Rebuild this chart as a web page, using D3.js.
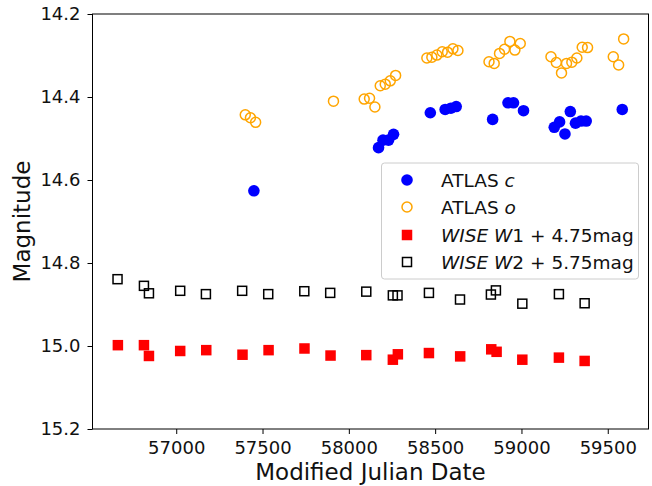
<!DOCTYPE html>
<html><head><meta charset="utf-8">
<script src="https://cdn.jsdelivr.net/npm/d3@7"></script>
<style>
body{margin:0;background:#fff;}
svg text{font-family:"DejaVu Sans",sans-serif;}
</style></head>
<body><svg id="c" width="652" height="486"></svg>
<script>
// ATLAS c (filled blue circles)
const atlasC_mjd = [57450,58172,58198,58230,58259,58472,58558,58591,58622,58833,58922,58954,59012,59190,59221,59252,59283,59313,59345,59375,59584];
const atlasC_mag = [14.626,14.522,14.504,14.504,14.490,14.438,14.430,14.427,14.423,14.454,14.414,14.414,14.433,14.473,14.460,14.489,14.435,14.463,14.458,14.458,14.430];
// ATLAS o (open orange circles)
const atlasO_mjd = [57400,57430,57460,57911,58089,58120,58151,58182,58211,58240,58271,58452,58481,58510,58541,58572,58603,58632,58812,58842,58873,58902,58933,58962,58993,59171,59202,59232,59261,59292,59321,59352,59383,59532,59563,59592];
const atlasO_mag = [14.443,14.450,14.461,14.410,14.405,14.403,14.424,14.373,14.369,14.361,14.348,14.306,14.304,14.299,14.291,14.292,14.284,14.288,14.315,14.319,14.295,14.285,14.266,14.287,14.271,14.303,14.317,14.342,14.319,14.316,14.306,14.280,14.281,14.303,14.323,14.260];
// WISE W1 + 4.75 mag (filled red squares)
const w1_mjd = [56662,56813,56842,57023,57174,57384,57535,57743,57894,58101,58255,58284,58464,58645,58825,58856,59005,59217,59366];
const w1_mag = [14.998,14.998,15.024,15.012,15.010,15.021,15.010,15.006,15.023,15.022,15.033,15.020,15.017,15.025,15.008,15.014,15.033,15.028,15.036];
// WISE W2 + 5.75 mag (open black squares)
const w2_mjd = [56660,56813,56842,57023,57172,57382,57533,57742,57892,58101,58255,58282,58464,58644,58823,58852,59005,59217,59366];
const w2_mag = [14.839,14.855,14.873,14.867,14.875,14.867,14.875,14.868,14.872,14.869,14.878,14.878,14.872,14.888,14.876,14.866,14.898,14.875,14.897];

const xTicks = [57000,57500,58000,58500,59000,59500];
const yTicks = [14.2,14.4,14.6,14.8,15.0,15.2];
const xDomain = [56515,59736];
const yDomain = [14.2,15.2];

const svg = d3.select("#c");
const L=92.5, R=648.5, T=14, B=429;
const x = d3.scaleLinear().domain(xDomain).range([L,R]);
const y = d3.scaleLinear().domain(yDomain).range([T,B]);

const zip = (a,b)=>a.map((v,i)=>[v,b[i]]);

// axes
const gx = svg.append("g").attr("transform",`translate(0,${B})`)
  .call(d3.axisBottom(x).tickValues(xTicks).tickFormat(d3.format("d")).tickSize(5).tickPadding(7));
const gy = svg.append("g").attr("transform",`translate(${L},0)`)
  .call(d3.axisLeft(y).tickValues(yTicks).tickFormat(d3.format(".1f")).tickSize(5).tickPadding(7));
[gx,gy].forEach(g=>{
  g.select(".domain").remove();
  g.selectAll("line").attr("stroke","#000").attr("stroke-width",1);
  g.selectAll("text").attr("font-size","18px").attr("fill","#111").attr("font-family","DejaVu Sans");
});

// data
const pts = svg.append("g");
pts.selectAll(".o").data(zip(atlasO_mjd,atlasO_mag)).join("circle")
  .attr("cx",d=>x(d[0])).attr("cy",d=>y(d[1])).attr("r",5)
  .attr("fill","none").attr("stroke","#ffa500").attr("stroke-width",1.5);
pts.selectAll(".c").data(zip(atlasC_mjd,atlasC_mag)).join("circle")
  .attr("cx",d=>x(d[0])).attr("cy",d=>y(d[1])).attr("r",5.8)
  .attr("fill","#0000ff");
const s1=10.5;
pts.selectAll(".w1").data(zip(w1_mjd,w1_mag)).join("rect")
  .attr("x",d=>x(d[0])-s1/2).attr("y",d=>y(d[1])-s1/2).attr("width",s1).attr("height",s1)
  .attr("fill","#ff0000");
const s2=9;
pts.selectAll(".w2").data(zip(w2_mjd,w2_mag)).join("rect")
  .attr("x",d=>x(d[0])-s2/2).attr("y",d=>y(d[1])-s2/2).attr("width",s2).attr("height",s2)
  .attr("fill","none").attr("stroke","#000").attr("stroke-width",1.5);

// frame
svg.append("rect").attr("x",L).attr("y",T).attr("width",R-L).attr("height",B-T)
  .attr("fill","none").attr("stroke","#000").attr("stroke-width",1);

// axis labels
svg.append("text").attr("x",(L+R)/2).attr("y",480).attr("text-anchor","middle")
  .attr("font-size","23px").attr("fill","#111").text("Modified Julian Date");
svg.append("text").attr("transform",`translate(30,${(T+B)/2}) rotate(-90)`).attr("text-anchor","middle")
  .attr("font-size","23px").attr("fill","#111").text("Magnitude");

// legend
const lg = svg.append("g");
lg.append("rect").attr("x",381.5).attr("y",163).attr("width",257).attr("height",116).attr("rx",3)
  .attr("fill","#fff").attr("fill-opacity",0.8).attr("stroke","#ccc").attr("stroke-width",1);
const legendItems = [
  {type:"c", parts:[["ATLAS ",false],["c",true]]},
  {type:"o", parts:[["ATLAS ",false],["o",true]]},
  {type:"w1", parts:[["WISE W",true],["1 + 4.75mag",false]]},
  {type:"w2", parts:[["WISE W",true],["2 + 5.75mag",false]]}
];
const ly = [180,207,235,262];
legendItems.forEach((it,i)=>{
  const cy=ly[i], cx=407;
  if(it.type==="c") lg.append("circle").attr("cx",cx).attr("cy",cy).attr("r",5.8).attr("fill","#0000ff");
  if(it.type==="o") lg.append("circle").attr("cx",cx).attr("cy",cy).attr("r",5).attr("fill","none").attr("stroke","#ffa500").attr("stroke-width",1.5);
  if(it.type==="w1") lg.append("rect").attr("x",cx-s1/2).attr("y",cy-s1/2).attr("width",s1).attr("height",s1).attr("fill","#ff0000");
  if(it.type==="w2") lg.append("rect").attr("x",cx-s2/2).attr("y",cy-s2/2).attr("width",s2).attr("height",s2).attr("fill","none").attr("stroke","#000").attr("stroke-width",1.5);
  const t = lg.append("text").attr("x",441).attr("y",cy+6.5).attr("font-size","18.5px").attr("fill","#111");
  it.parts.forEach(p=>t.append("tspan").attr("font-style",p[1]?"italic":"normal").text(p[0]));
});
</script></body></html>
